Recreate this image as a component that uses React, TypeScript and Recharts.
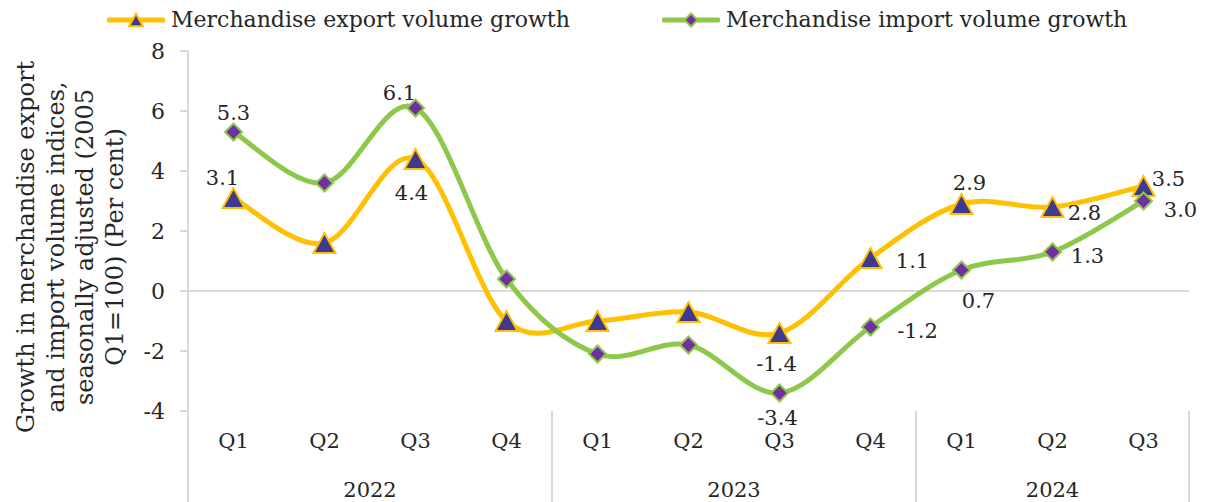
import { LabelList, Legend, Line, LineChart, ReferenceLine, XAxis, YAxis } from 'recharts'

const QUARTERS = ['Q1', 'Q2', 'Q3', 'Q4', 'Q1', 'Q2', 'Q3', 'Q4', 'Q1', 'Q2', 'Q3']
const YEARS = ['2022', '2022', '2022', '2022', '2023', '2023', '2023', '2023', '2024', '2024', '2024']
const EXPORT_GROWTH = [3.1, 1.6, 4.4, -1.0, -1.0, -0.7, -1.4, 1.1, 2.9, 2.8, 3.5]
const IMPORT_GROWTH = [5.3, 3.6, 6.1, 0.4, -2.1, -1.8, -3.4, -1.2, 0.7, 1.3, 3.0]
const Y_TICKS = [-4, -2, 0, 2, 4, 6, 8]
const Y_LABEL_LINES = [
  'Growth in merchandise export',
  'and import volume indices,',
  'seasonally adjusted (2005',
  'Q1=100) (Per cent)',
]

// which points carry a data label, and where the label sits relative to the marker
const EXPORT_LABEL_POS: Record<number, [number, number]> = {
  0: [-11, -20],
  2: [-4, 34],
  6: [-3, 31],
  7: [42, 3],
  8: [8, -21],
  9: [32, 6],
  10: [25, -7],
}
const IMPORT_LABEL_POS: Record<number, [number, number]> = {
  0: [0, -19],
  2: [-16, -15],
  6: [-2, 25],
  7: [47, 4],
  8: [17, 31],
  9: [35, 4],
  10: [37, 9],
}

const data = QUARTERS.map((q, i) => ({
  quarter: q,
  year: YEARS[i],
  exports: EXPORT_GROWTH[i],
  imports: IMPORT_GROWTH[i],
}))

const FONT = 'Georgia, "DejaVu Serif", serif'
const TEXT = '#262626'
const GRID = '#d9d9d9'
const EXPORT_LINE = '#FFC000'
const EXPORT_MARK = '#3F3A8F'
const IMPORT_LINE = '#8DC84B'
const IMPORT_MARK = '#7030A0'
const AXIS_TOP = 411
const CHART_BOTTOM = 502
const HALF_BAND = 45.5

// Excel-style smoothing (uniform Catmull-Rom as cubic beziers)
const excelSmooth = (ctx: any) => {
  let pts: [number, number][] = []
  return {
    areaStart() {},
    areaEnd() {},
    lineStart() {
      pts = []
    },
    point(x: number, y: number) {
      pts.push([+x, +y])
    },
    lineEnd() {
      if (!pts.length) return
      ctx.moveTo(pts[0][0], pts[0][1])
      for (let i = 0; i < pts.length - 1; i++) {
        const p0 = pts[Math.max(i - 1, 0)]
        const p1 = pts[i]
        const p2 = pts[i + 1]
        const p3 = pts[Math.min(i + 2, pts.length - 1)]
        ctx.bezierCurveTo(
          p1[0] + (p2[0] - p0[0]) / 6,
          p1[1] + (p2[1] - p0[1]) / 6,
          p2[0] - (p3[0] - p1[0]) / 6,
          p2[1] - (p3[1] - p1[1]) / 6,
          p2[0],
          p2[1],
        )
      }
    },
  }
}

function Triangle({ cx, cy, r = 11 }: { cx: number; cy: number; r?: number }) {
  const h = r * 0.9
  return (
    <polygon
      points={`${cx},${cy - h} ${cx - r},${cy + h} ${cx + r},${cy + h}`}
      fill={EXPORT_MARK}
      stroke={EXPORT_LINE}
      strokeWidth={2}
      strokeLinejoin="miter"
    />
  )
}

function Diamond({ cx, cy, r = 8.5 }: { cx: number; cy: number; r?: number }) {
  return (
    <polygon
      points={`${cx},${cy - r} ${cx + r},${cy} ${cx},${cy + r} ${cx - r},${cy}`}
      fill={IMPORT_MARK}
      stroke={IMPORT_LINE}
      strokeWidth={2}
    />
  )
}

const renderTriangle = (p: any) => <Triangle key={`tri-${p.index}`} cx={p.cx} cy={p.cy} />
const renderDiamond = (p: any) => <Diamond key={`dia-${p.index}`} cx={p.cx} cy={p.cy} />

const makeLabel = (positions: Record<number, [number, number]>) => (p: any) => {
  const pos = positions[p.index]
  if (!pos) return null
  const x = p.x ?? p.viewBox?.x
  const y = p.y ?? p.viewBox?.y
  return (
    <text
      key={`lbl-${p.index}`}
      x={x + pos[0]}
      y={y + pos[1]}
      textAnchor="middle"
      dominantBaseline="central"
      fontSize={21}
      fontFamily={FONT}
      fill={TEXT}
    >
      {Number(p.value).toFixed(1)}
    </text>
  )
}

const QuarterTick = (p: any) => (
  <text
    x={p.x}
    y={441}
    textAnchor="middle"
    dominantBaseline="central"
    fontSize={21}
    fontFamily={FONT}
    fill={TEXT}
  >
    {p.payload.value}
  </text>
)

const YearTick = (p: any) => {
  const i = p.index ?? p.payload.index
  const year = YEARS[i]
  const first = YEARS.indexOf(year)
  const last = YEARS.lastIndexOf(year)
  const mid = (first + last) / 2
  const parts = []
  if (i === first) {
    const x = p.x - HALF_BAND
    parts.push(<line key="l" x1={x} x2={x} y1={AXIS_TOP} y2={CHART_BOTTOM} stroke={GRID} strokeWidth={2} />)
  }
  if (i === YEARS.length - 1) {
    const x = p.x + HALF_BAND
    parts.push(<line key="r" x1={x} x2={x} y1={AXIS_TOP} y2={CHART_BOTTOM} stroke={GRID} strokeWidth={2} />)
  }
  // year label centred under its group (between two ticks when the group is even)
  const d = i - mid
  if (d === 0 || d === -0.5) {
    parts.push(
      <text
        key="t"
        x={d === 0 ? p.x : p.x + HALF_BAND}
        y={490}
        textAnchor="middle"
        dominantBaseline="central"
        fontSize={21}
        fontFamily={FONT}
        fill={TEXT}
      >
        {year}
      </text>,
    )
  }
  return <g>{parts}</g>
}

const YTick = (p: any) => (
  <text
    x={p.x}
    y={p.y}
    textAnchor="end"
    dominantBaseline="central"
    fontSize={22}
    fontFamily={FONT}
    fill={TEXT}
  >
    {p.payload.value}
  </text>
)

const YLabel = () => (
  <text
    transform="translate(26, 247) rotate(-90)"
    textAnchor="middle"
    dominantBaseline="central"
    fontSize={24}
    fontFamily={FONT}
    fill={TEXT}
  >
    {Y_LABEL_LINES.map((t, i) => (
      <tspan key={t} x={0} dy={i === 0 ? 0 : 29.5}>
        {t}
      </tspan>
    ))}
  </text>
)

const LEGEND_LEFT = [107, 662]

const LegendContent = (props: any) => {
  const items = props.payload || []
  return (
    <div style={{ position: 'relative', width: 1206, height: 40 }}>
      {items.map((it: any, i: number) => {
        const isExport = it.dataKey === 'exports'
        return (
          <div
            key={it.value}
            style={{
              position: 'absolute',
              left: LEGEND_LEFT[i],
              top: 4,
              display: 'flex',
              alignItems: 'center',
              gap: 6,
              fontFamily: FONT,
              fontSize: 22,
              color: TEXT,
              whiteSpace: 'nowrap',
            }}
          >
            <svg width={58} height={30}>
              <line x1={2} x2={56} y1={16} y2={16} stroke={it.color} strokeWidth={5} strokeLinecap="round" />
              {isExport ? <Triangle cx={29} cy={16} r={7} /> : <Diamond cx={29} cy={16} r={6.5} />}
            </svg>
            <span>{it.value}</span>
          </div>
        )
      })}
    </div>
  )
}

export default function App() {
  return (
    <div style={{ position: 'absolute', left: 0, top: 0, background: '#fff' }}>
      <LineChart width={1206} height={502} data={data} margin={{ top: 51, right: 17, bottom: 0, left: 0 }}>
        <XAxis
          xAxisId="q"
          dataKey="quarter"
          padding={{ left: HALF_BAND, right: HALF_BAND }}
          height={45}
          axisLine={false}
          tickLine={false}
          interval={0}
          tick={<QuarterTick />}
        />
        <XAxis
          xAxisId="y"
          dataKey="year"
          padding={{ left: HALF_BAND, right: HALF_BAND }}
          height={46}
          axisLine={false}
          tickLine={false}
          interval={0}
          tick={<YearTick />}
        />
        <YAxis
          width={188}
          domain={[-4, 8]}
          ticks={Y_TICKS}
          interval={0}
          axisLine={{ stroke: GRID, strokeWidth: 2 }}
          tickLine={{ stroke: GRID, strokeWidth: 2 }}
          tickSize={8}
          tickMargin={15}
          tick={<YTick />}
          label={<YLabel />}
        />
        <ReferenceLine xAxisId="q" y={0} stroke={GRID} strokeWidth={2} />
        <Legend
          verticalAlign="middle"
          align="center"
          wrapperStyle={{ top: 0, left: 0, width: 1206 }}
          content={<LegendContent />}
        />
        <Line
          xAxisId="q"
          dataKey="exports"
          name="Merchandise export volume growth"
          type={excelSmooth as any}
          stroke={EXPORT_LINE}
          strokeWidth={5}
          dot={renderTriangle}
          activeDot={false}
          isAnimationActive={false}
        >
          <LabelList dataKey="exports" content={makeLabel(EXPORT_LABEL_POS)} />
        </Line>
        <Line
          xAxisId="q"
          dataKey="imports"
          name="Merchandise import volume growth"
          type={excelSmooth as any}
          stroke={IMPORT_LINE}
          strokeWidth={5}
          dot={renderDiamond}
          activeDot={false}
          isAnimationActive={false}
        >
          <LabelList dataKey="imports" content={makeLabel(IMPORT_LABEL_POS)} />
        </Line>
      </LineChart>
    </div>
  )
}
